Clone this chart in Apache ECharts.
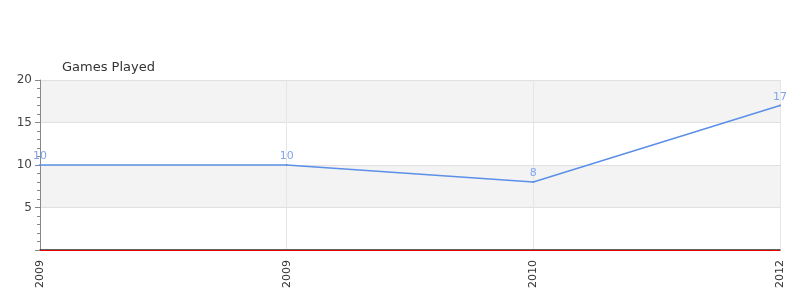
<!DOCTYPE html>
<html>
<head>
<meta charset="utf-8">
<script src="https://cdn.jsdelivr.net/npm/echarts@6/dist/echarts.min.js"></script>
<style>html,body{margin:0;padding:0;background:#fff}#c{width:800px;height:300px}</style>
</head>
<body>
<div id="c"></div>
<script>
const categories = ['2009', '2009', '2010', '2012'];
const gamesPlayed = [10, 10, 8, 17];
const yTicks = [5, 10, 15, 20];
const chartTitle = 'Games Played';

const chart = echarts.init(document.getElementById('c'), null, {renderer: 'canvas'});
chart.setOption({
  animation: false,
  title: {
    text: chartTitle,
    left: 57, top: 56,
    textStyle: {fontSize: 13, fontWeight: 'normal', color: '#333', fontFamily: 'DejaVu Sans'}
  },
  grid: {left: 40, right: 20, top: 80, bottom: 50},
  xAxis: {
    type: 'category',
    data: categories,
    boundaryGap: false,
    axisLine: {lineStyle: {color: '#333', width: 1.5}},
    axisTick: {show: false},
    axisLabel: {rotate: 90, color: '#333', fontSize: 11, fontFamily: 'DejaVu Sans', margin: 10},
    splitLine: {show: true, lineStyle: {color: '#e6e6e6'}}
  },
  yAxis: {
    type: 'value',
    min: 0, max: 20, interval: 5,
    axisLine: {show: true, lineStyle: {color: '#888'}},
    axisTick: {show: true, length: 5, lineStyle: {color: '#888'}},
    minorTick: {show: true, splitNumber: 5, length: 3, lineStyle: {color: '#888'}},
    axisLabel: {
      color: '#444', fontSize: 12, fontFamily: 'DejaVu Sans', margin: 8,
      formatter: v => yTicks.includes(v) ? String(v) : ''
    },
    splitLine: {show: true, lineStyle: {color: '#e0e0e0'}},
    splitArea: {show: true, areaStyle: {color: ['#ffffff', '#f3f3f3']}}
  },
  series: [{
    type: 'line',
    data: gamesPlayed,
    symbol: 'circle',
    symbolSize: 2,
    showSymbol: true,
    itemStyle: {color: '#5b8fe8', borderWidth: 0},
    lineStyle: {color: '#5b8fe8', width: 1.5},
    label: {show: true, position: 'top', color: '#7ea5ee', fontSize: 11, fontFamily: 'DejaVu Sans', distance: 2},
    markLine: {
      silent: true,
      symbol: 'none',
      label: {show: false},
      lineStyle: {color: '#e00000', type: 'solid', width: 1},
      data: [{yAxis: 0}]
    }
  }]
});
</script>
</body>
</html>
